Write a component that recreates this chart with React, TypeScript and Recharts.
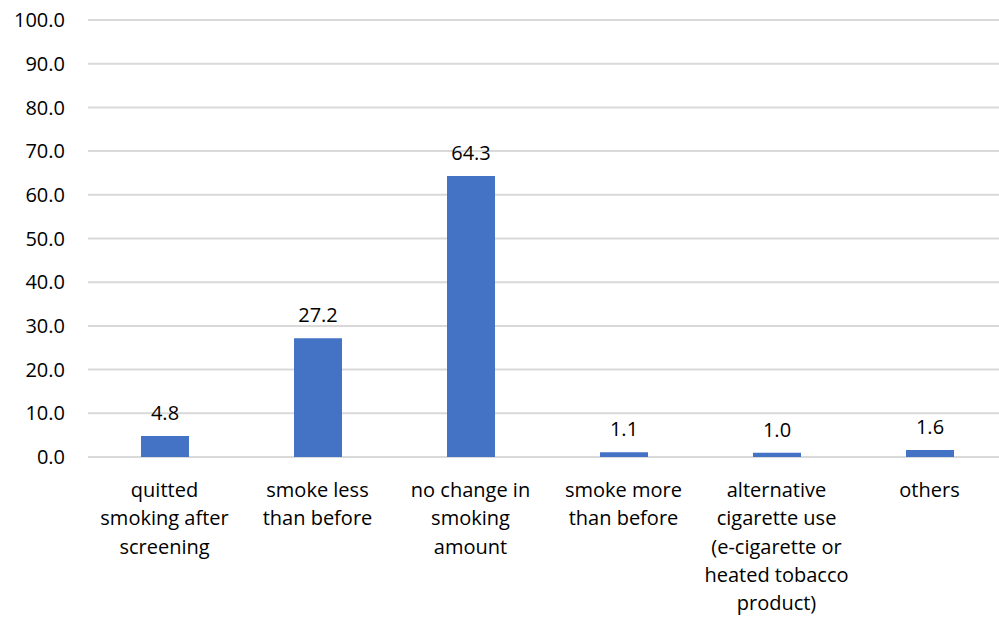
import React from 'react';
import { BarChart, Bar, XAxis, YAxis, CartesianGrid, LabelList } from 'recharts';

const categories = [
  'quitted smoking after screening',
  'smoke less than before',
  'no change in smoking amount',
  'smoke more than before',
  'alternative cigarette use (e-cigarette or heated tobacco product)',
  'others',
];

const categoryLines = [
  ['quitted', 'smoking after', 'screening'],
  ['smoke less', 'than before'],
  ['no change in', 'smoking', 'amount'],
  ['smoke more', 'than before'],
  ['alternative', 'cigarette use', '(e-cigarette or', 'heated tobacco', 'product)'],
  ['others'],
];

const values = [4.8, 27.2, 64.3, 1.1, 1.0, 1.6];

const yTicks = [0, 10, 20, 30, 40, 50, 60, 70, 80, 90, 100];

const data = categories.map((c, i) => ({ name: c, value: values[i], idx: i }));

const FONT = '"Open Sans", sans-serif';
const TEXT = '#000000';

const CategoryTick = (props: any) => {
  const { x, y, payload } = props;
  const lines = categoryLines[payload.index] || [String(payload.value)];
  return (
    <text x={x} y={y} textAnchor="middle" fill={TEXT} fontSize={20} fontFamily={FONT}>
      {lines.map((l: string, i: number) => (
        <tspan key={i} x={x} dy={i === 0 ? 40 : 28.3}>
          {l}
        </tspan>
      ))}
    </text>
  );
};

export default function App() {
  return (
    <div
      style={{
        position: 'fixed',
        left: 0,
        top: 0,
        width: 999,
        height: 617,
        overflow: 'hidden',
        background: '#ffffff',
      }}
    >
      <BarChart
        width={1006}
        height={617}
        data={data}
        margin={{ top: 20, right: 0, bottom: 0, left: 0 }}
      >
        <CartesianGrid vertical={false} stroke="#d9d9d9" strokeWidth={2} />
        <XAxis
          dataKey="name"
          height={160}
          axisLine={false}
          tickLine={false}
          tickSize={0}
          tickMargin={0}
          interval={0}
          tick={<CategoryTick />}
        />
        <YAxis
          width={88}
          domain={[0, 100]}
          ticks={yTicks}
          axisLine={false}
          tickLine={false}
          tickSize={0}
          tickMargin={23}
          tickFormatter={(v: number) => v.toFixed(1)}
          tick={{ fill: TEXT, fontSize: 20, fontFamily: FONT }}
        />
        <Bar dataKey="value" fill="#4472C4" barSize={48} isAnimationActive={false}>
          <LabelList
            dataKey="value"
            position="top"
            offset={16}
            formatter={(v: number) => v.toFixed(1)}
            fill={TEXT}
            fontSize={20}
            fontFamily={FONT}
          />
        </Bar>
      </BarChart>
    </div>
  );
}
